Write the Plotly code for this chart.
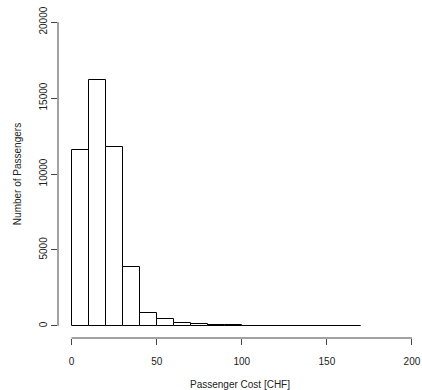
import plotly.graph_objects as go

# Histogram data (bins of width 10 CHF)
bin_edges = [0, 10, 20, 30, 40, 50, 60, 70, 80, 90, 100, 110, 120, 130, 140, 150, 160, 170]
counts = [11550, 16200, 11750, 3900, 820, 430, 200, 150, 85, 40, 15, 6, 5, 5, 4, 6, 20]
x_ticks = [0, 50, 100, 150, 200]
y_ticks = [0, 5000, 10000, 15000, 20000]

centers = [(bin_edges[i] + bin_edges[i + 1]) / 2 for i in range(len(counts))]
widths = [bin_edges[i + 1] - bin_edges[i] for i in range(len(counts))]

FONT = "Liberation Sans, Arial, sans-serif"
AXC = "#444444"

fig = go.Figure()
fig.add_trace(go.Bar(
    x=centers, y=counts, width=widths,
    marker=dict(color="white", line=dict(color="black", width=1)),
    hoverinfo="x+y",
))

fig.update_layout(
    width=422, height=390,
    margin=dict(l=58, r=0, t=9.5, b=52),
    paper_bgcolor="white", plot_bgcolor="white",
    showlegend=False,
    font=dict(family=FONT, size=10, color="#222222"),
    bargap=0,
    xaxis=dict(
        range=[-8, 205.9], tickmode="array", tickvals=x_ticks,
        ticktext=[str(v) for v in x_ticks],
        ticks="outside", ticklen=6, tickcolor=AXC, tickwidth=1,
        showgrid=False, zeroline=False, showline=False,
        ticklabelstandoff=8, automargin=False, ticklabeloverflow="allow",
        title=dict(text="Passenger Cost [CHF]", standoff=15, font=dict(size=10)),
    ),
    yaxis=dict(
        range=[-800, 20800], tickmode="array", tickvals=y_ticks,
        ticktext=[str(v) for v in y_ticks],
        ticks="outside", ticklen=6, tickcolor=AXC, tickwidth=1,
        tickangle=-90,
        showgrid=False, zeroline=False, showline=False,
        ticklabelstandoff=0, automargin=False, ticklabeloverflow="allow",
        title=dict(text="Number of Passengers", standoff=14, font=dict(size=10)),
    ),
    shapes=[
        dict(type="line", xref="x", yref="paper", x0=0, x1=200, y0=0, y1=0,
             line=dict(color=AXC, width=1)),
        dict(type="line", xref="paper", yref="y", x0=0, x1=0, y0=0, y1=20000,
             line=dict(color=AXC, width=1)),
    ],
)

fig.write_html(
    "out.html",
    config={"displayModeBar": False},
    post_script="document.body.style.margin='0';document.body.style.overflow='hidden';",
)
